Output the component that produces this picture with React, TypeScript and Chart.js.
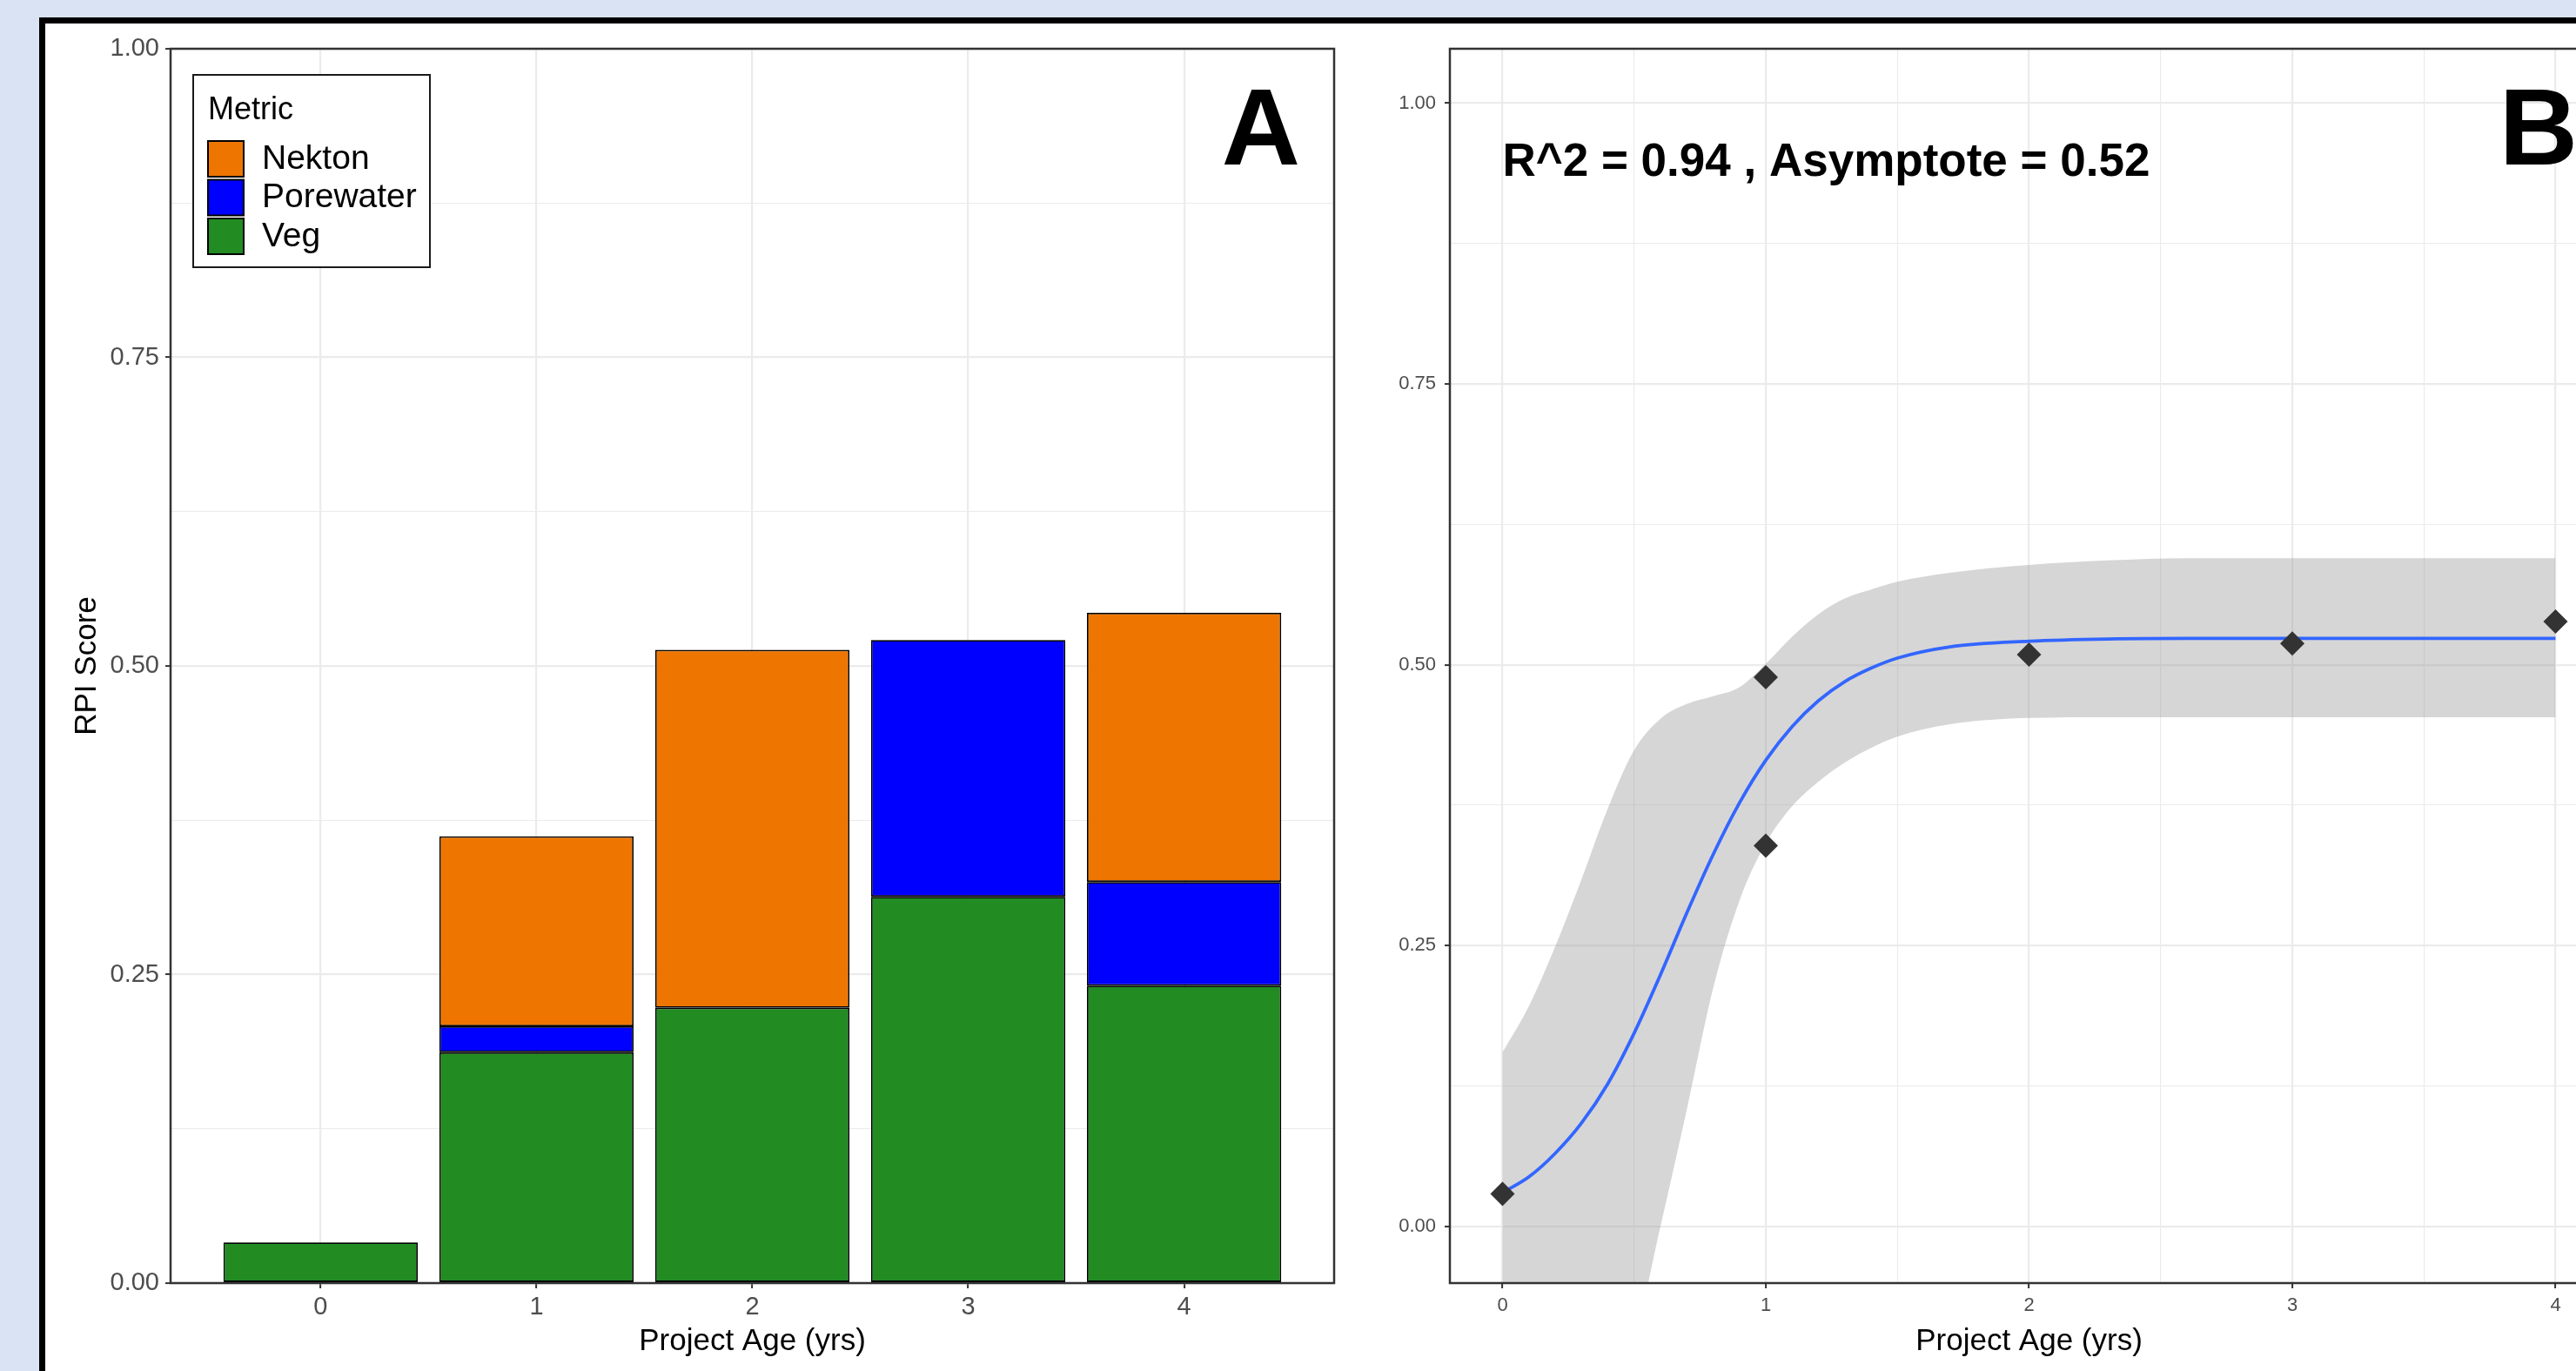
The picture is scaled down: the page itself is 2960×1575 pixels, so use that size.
import React, { useEffect, useRef } from 'react';
import { Chart, registerables } from 'chart.js';

Chart.register(...registerables);

const FONT = "'Liberation Sans', Arial, Helvetica, sans-serif";
const GRID = '#EBEBEB';
const INK = '#333333';
const TICK_TEXT = '#4D4D4D';

// ---------------- Panel A : stacked RPI score by project age ----------------
const ageCategories = [0, 1, 2, 3, 4];
const vegScores = [0.033, 0.187, 0.223, 0.313, 0.241];
const porewaterScores = [null, 0.021, null, 0.208, 0.084];
const nektonScores = [null, 0.154, 0.29, null, 0.218];
const metricLabels = ['Veg', 'Porewater', 'Nekton'];
const metricColors = ['#228B22', '#0000FF', '#EE7600'];
const legendTitle = 'Metric';
const xTickLabelsA = ['0', '1', '2', '3', '4'];
const yTickValues = [0, 0.25, 0.5, 0.75, 1];
const yTickLabels = ['0.00', '0.25', '0.50', '0.75', '1.00'];
const xAxisTitle = 'Project Age (yrs)';
const yAxisTitleA = 'RPI Score';

// ---------------- Panel B : fitted recovery curve ----------------
const siteAges = [0, 1, 1, 2, 3, 4];
const siteScores = [0.029, 0.489, 0.339, 0.509, 0.519, 0.5385];
const curveAges = [0, 0.1, 0.2, 0.3, 0.4, 0.5, 0.6, 0.7, 0.8, 0.9, 1.0, 1.1, 1.2, 1.3, 1.4, 1.5, 1.7, 2.0, 2.3, 2.6, 3.0, 3.5, 4.0];
const curveFit = [0.03, 0.044, 0.065, 0.092, 0.127, 0.172, 0.224, 0.279, 0.331, 0.377, 0.415, 0.445, 0.468, 0.485, 0.497, 0.506, 0.516, 0.521, 0.523, 0.5235, 0.5235, 0.5235, 0.5235];
const curveUpper = [0.155, 0.196, 0.249, 0.309, 0.372, 0.424, 0.452, 0.465, 0.472, 0.48, 0.501, 0.525, 0.545, 0.559, 0.567, 0.574, 0.582, 0.589, 0.593, 0.595, 0.595, 0.595, 0.595];
const curveLower = [-0.095, -0.115, -0.13, -0.14, -0.14, -0.1, 0.0, 0.104, 0.212, 0.29, 0.341, 0.374, 0.396, 0.413, 0.426, 0.436, 0.447, 0.4526, 0.4533, 0.4533, 0.4533, 0.4533, 0.4533];
const xTickLabelsB = ['0', '1', '2', '3', '4'];
const fitNote = 'R^2 = 0.94 , Asymptote = 0.52';
const fitNoteAt = { x: 0, y: 0.95 };

const isMult = (v: number, step: number) => Math.abs(v / step - Math.round(v / step)) < 1e-6;
const near = (arr: number[], v: number) => arr.findIndex((t) => Math.abs(t - v) < 1e-9);

const panelBorder = {
  id: 'panelBorder',
  afterDraw(chart: any) {
    const { ctx, chartArea: a } = chart;
    ctx.save();
    ctx.strokeStyle = INK;
    ctx.lineWidth = 2.5;
    ctx.strokeRect(a.left, a.top, a.right - a.left, a.bottom - a.top);
    ctx.restore();
  },
};

const boxLegend = {
  id: 'boxLegend',
  afterDraw(chart: any, _args: any, opts: any) {
    if (!opts || !opts.show) return;
    const { ctx, chartArea: a } = chart;
    const x0 = a.left + 26;
    const y0 = a.top + 30;
    const w = 272;
    const h = 221;
    ctx.save();
    ctx.fillStyle = '#FFFFFF';
    ctx.fillRect(x0, y0, w, h);
    ctx.strokeStyle = '#1A1A1A';
    ctx.lineWidth = 2;
    ctx.strokeRect(x0, y0, w, h);
    ctx.fillStyle = '#000000';
    ctx.textAlign = 'left';
    ctx.textBaseline = 'alphabetic';
    ctx.font = `36px ${FONT}`;
    ctx.fillText(opts.title, x0 + 17, y0 + 51);
    const items = chart.data.datasets.slice().reverse();
    items.forEach((ds: any, i: number) => {
      const ky = y0 + 76 + i * 44.5;
      ctx.fillStyle = ds.backgroundColor;
      ctx.fillRect(x0 + 17, ky, 41, 41);
      ctx.strokeStyle = '#000000';
      ctx.lineWidth = 2;
      ctx.strokeRect(x0 + 17, ky, 41, 41);
      ctx.fillStyle = '#000000';
      ctx.font = `39px ${FONT}`;
      ctx.textBaseline = 'middle';
      ctx.fillText(ds.label, x0 + 79, ky + 21);
    });
    ctx.restore();
  },
};

const panelLetter = {
  id: 'panelLetter',
  afterDraw(chart: any, _args: any, opts: any) {
    if (!opts || !opts.text) return;
    const { ctx, chartArea: a } = chart;
    ctx.save();
    ctx.fillStyle = '#000000';
    ctx.font = `bold 125px ${FONT}`;
    ctx.textAlign = 'center';
    ctx.textBaseline = 'alphabetic';
    ctx.fillText(opts.text, a.right - opts.dx, a.top + 133);
    ctx.restore();
  },
};

const fitNotePlugin = {
  id: 'fitNote',
  afterDraw(chart: any, _args: any, opts: any) {
    if (!opts || !opts.text) return;
    const { ctx, scales } = chart;
    const px = scales.x.getPixelForValue(opts.x);
    const py = scales.y.getPixelForValue(opts.y);
    ctx.save();
    ctx.fillStyle = '#000000';
    ctx.font = `bold 53px ${FONT}`;
    ctx.textAlign = 'left';
    ctx.textBaseline = 'alphabetic';
    ctx.fillText(opts.text, px, py + 19);
    ctx.restore();
  },
};

function makeChartA(canvas: HTMLCanvasElement) {
  const series = [vegScores, porewaterScores, nektonScores];
  const datasets = series.map((vals, k) => ({
    label: metricLabels[k],
    data: ageCategories.map((x, i) => ({ x, y: vals[i] })),
    backgroundColor: metricColors[k],
    borderColor: '#000000',
    borderWidth: 1.8,
    borderSkipped: false,
    categoryPercentage: 1,
    barPercentage: 0.9,
  }));
  return new Chart(canvas, {
    type: 'bar',
    data: { datasets } as any,
    plugins: [panelBorder, boxLegend, panelLetter],
    options: {
      responsive: false,
      animation: false,
      devicePixelRatio: 1,
      events: [],
      layout: { padding: { left: 0, top: 28, right: 67, bottom: 0 } },
      plugins: {
        legend: { display: false },
        tooltip: { enabled: false },
        boxLegend: { show: true, title: legendTitle },
        panelLetter: { text: 'A', dx: 84 },
      } as any,
      scales: {
        x: {
          type: 'linear',
          stacked: true,
          offset: false,
          min: -0.695,
          max: 4.695,
          afterFit: (s: any) => { s.height = 94; },
          border: { display: false },
          grid: {
            offset: false,
            color: GRID,
            lineWidth: 2.2,
            drawTicks: true,
            tickLength: 6,
            tickWidth: 2,
            tickColor: INK,
          },
          ticks: {
            stepSize: 1,
            includeBounds: false,
            autoSkip: false,
            maxRotation: 0,
            padding: 5,
            color: TICK_TEXT,
            font: { size: 29, family: FONT },
            callback: (v: any) => {
              const i = near(ageCategories, Number(v));
              return i >= 0 ? xTickLabelsA[i] : '';
            },
          },
          title: {
            display: true,
            text: xAxisTitle,
            color: '#000000',
            font: { size: 35, family: FONT },
            padding: { top: 0, bottom: 6 },
          },
        },
        y: {
          type: 'linear',
          stacked: true,
          min: 0,
          max: 1,
          afterFit: (s: any) => { s.width = 144; },
          border: { display: false },
          grid: {
            color: GRID,
            lineWidth: (c: any) => (c.tick && isMult(c.tick.value, 0.25) ? 2.2 : 1.1),
            drawTicks: true,
            tickLength: 6,
            tickWidth: 2,
            tickColor: (c: any) => (c.tick && isMult(c.tick.value, 0.25) ? INK : 'rgba(0,0,0,0)'),
          },
          ticks: {
            stepSize: 0.125,
            includeBounds: false,
            autoSkip: false,
            padding: 7,
            color: TICK_TEXT,
            font: { size: 29, family: FONT },
            callback: (v: any) => {
              const i = near(yTickValues, Number(v));
              return i >= 0 ? yTickLabels[i] : '';
            },
          },
          title: {
            display: true,
            text: yAxisTitleA,
            color: '#000000',
            font: { size: 35, family: FONT },
            padding: { top: 27, bottom: 0 },
          },
        },
      },
    } as any,
  });
}

function makeChartB(canvas: HTMLCanvasElement) {
  const datasets = [
    {
      label: 'Sites',
      data: siteAges.map((x, i) => ({ x, y: siteScores[i] })),
      showLine: false,
      pointStyle: 'rectRot',
      pointRadius: 14,
      pointBackgroundColor: '#333333',
      pointBorderWidth: 0,
      pointBorderColor: 'rgba(0,0,0,0)',
      order: 0,
    },
    {
      label: 'Fit',
      data: curveAges.map((x, i) => ({ x, y: curveFit[i] })),
      borderColor: '#3366FF',
      borderWidth: 3.8,
      pointRadius: 0,
      cubicInterpolationMode: 'monotone',
      fill: false,
      order: 1,
    },
    {
      label: 'Upper',
      data: curveAges.map((x, i) => ({ x, y: curveUpper[i] })),
      borderColor: 'rgba(0,0,0,0)',
      borderWidth: 0,
      pointRadius: 0,
      backgroundColor: 'rgba(153,153,153,0.4)',
      cubicInterpolationMode: 'monotone',
      fill: '+1',
      order: 2,
    },
    {
      label: 'Lower',
      data: curveAges.map((x, i) => ({ x, y: curveLower[i] })),
      borderColor: 'rgba(0,0,0,0)',
      borderWidth: 0,
      pointRadius: 0,
      cubicInterpolationMode: 'monotone',
      fill: false,
      order: 3,
    },
  ];
  return new Chart(canvas, {
    type: 'line',
    data: { datasets } as any,
    plugins: [panelBorder, fitNotePlugin, panelLetter],
    options: {
      responsive: false,
      animation: false,
      devicePixelRatio: 1,
      events: [],
      layout: { padding: { left: 0, top: 28, right: 63, bottom: 0 } },
      plugins: {
        legend: { display: false },
        tooltip: { enabled: false },
        fitNote: { text: fitNote, x: fitNoteAt.x, y: fitNoteAt.y },
        panelLetter: { text: 'B', dx: 80 },
      } as any,
      scales: {
        x: {
          type: 'linear',
          min: -0.2,
          max: 4.2,
          afterFit: (s: any) => { s.height = 94; },
          border: { display: false },
          grid: {
            color: GRID,
            lineWidth: (c: any) => (c.tick && isMult(c.tick.value, 1) ? 2.2 : 1.1),
            drawTicks: true,
            tickLength: 6,
            tickWidth: 2,
            tickColor: (c: any) => (c.tick && isMult(c.tick.value, 1) ? INK : 'rgba(0,0,0,0)'),
          },
          ticks: {
            stepSize: 0.5,
            includeBounds: false,
            autoSkip: false,
            maxRotation: 0,
            padding: 7,
            color: TICK_TEXT,
            font: { size: 22, family: FONT },
            callback: (v: any) => {
              const i = near([0, 1, 2, 3, 4], Number(v));
              return i >= 0 ? xTickLabelsB[i] : '';
            },
          },
          title: {
            display: true,
            text: xAxisTitle,
            color: '#000000',
            font: { size: 35, family: FONT },
            padding: { top: 0, bottom: 6 },
          },
        },
        y: {
          type: 'linear',
          min: -0.0505,
          max: 1.0485,
          afterFit: (s: any) => { s.width = 86; },
          border: { display: false },
          grid: {
            color: GRID,
            lineWidth: (c: any) => (c.tick && isMult(c.tick.value, 0.25) ? 2.2 : 1.1),
            drawTicks: true,
            tickLength: 6,
            tickWidth: 2,
            tickColor: (c: any) => (c.tick && isMult(c.tick.value, 0.25) ? INK : 'rgba(0,0,0,0)'),
          },
          ticks: {
            stepSize: 0.125,
            includeBounds: false,
            autoSkip: false,
            padding: 10,
            color: TICK_TEXT,
            font: { size: 22, family: FONT },
            callback: (v: any) => {
              const i = near(yTickValues, Number(v));
              return i >= 0 ? yTickLabels[i] : '';
            },
          },
        },
      },
    } as any,
  });
}

export default function App() {
  const refA = useRef<HTMLCanvasElement>(null);
  const refB = useRef<HTMLCanvasElement>(null);

  useEffect(() => {
    Chart.defaults.font.family = FONT;
    const a = makeChartA(refA.current as HTMLCanvasElement);
    const b = makeChartB(refB.current as HTMLCanvasElement);
    return () => {
      a.destroy();
      b.destroy();
    };
  }, []);

  return (
    <div
      style={{
        position: 'absolute',
        left: 0,
        top: 0,
        width: 2960,
        height: 1575,
        overflow: 'hidden',
        background: '#DAE3F3',
      }}
    >
      <div
        style={{
          position: 'absolute',
          left: 45,
          top: 20,
          width: 3100,
          height: 1700,
          boxSizing: 'border-box',
          border: '7px solid #000000',
          background: '#FFFFFF',
        }}
      />
      <canvas
        ref={refA}
        width={1548}
        height={1540}
        style={{ position: 'absolute', left: 52, top: 28, display: 'block' }}
      />
      <canvas
        ref={refB}
        width={1480}
        height={1540}
        style={{ position: 'absolute', left: 1580, top: 28, display: 'block' }}
      />
    </div>
  );
}
